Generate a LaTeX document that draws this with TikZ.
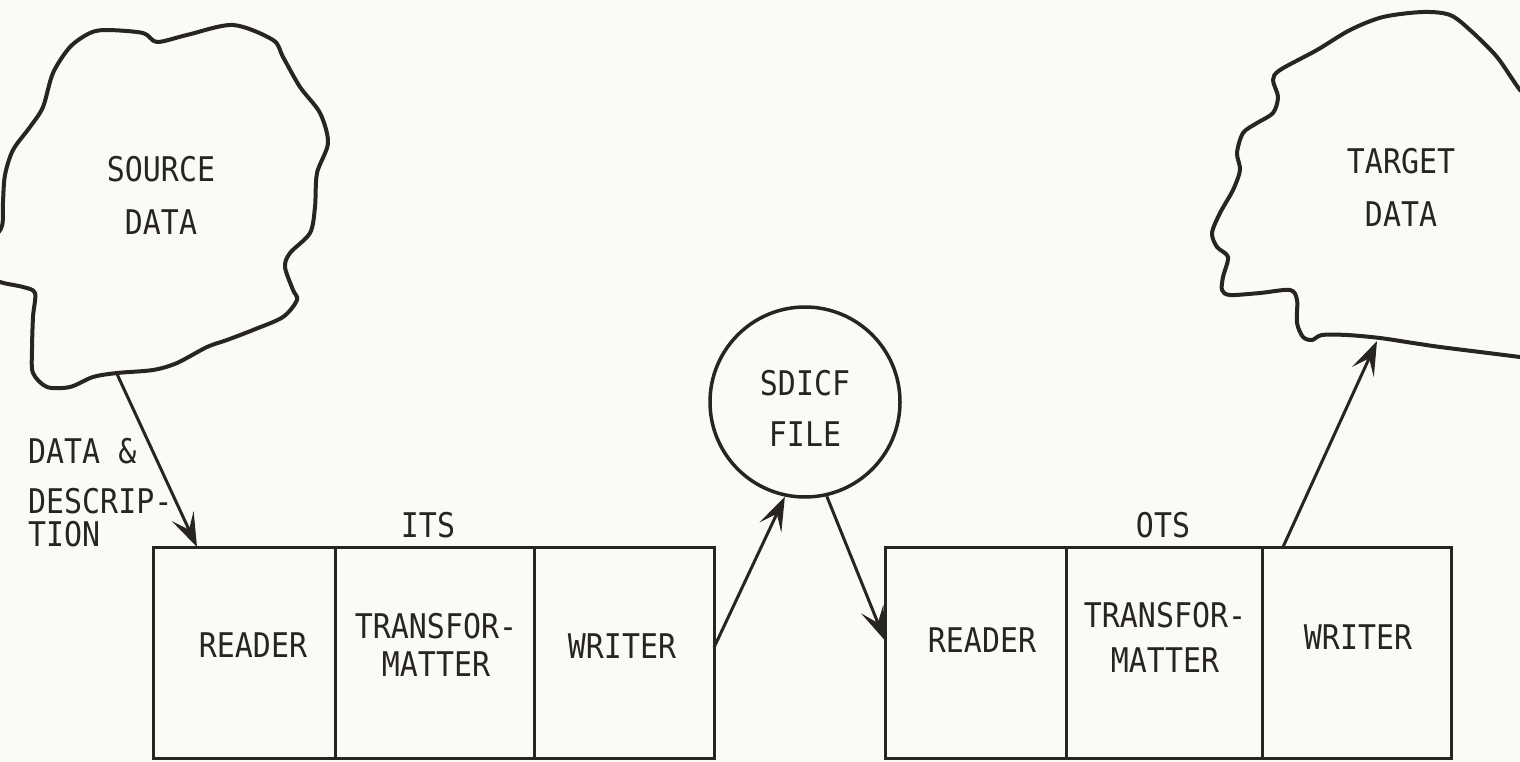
\documentclass[tikz,border=0pt]{standalone}
\usepackage{fontspec}
\newfontfamily\plotfont[FakeStretch=0.88]{DejaVu Sans Mono}
\usetikzlibrary{arrows.meta}
\definecolor{ink}{RGB}{40,36,36}
\definecolor{paper}{RGB}{251,251,246}
\tikzset{
  cell/.style={draw=ink, line width=3pt, rectangle, inner sep=0pt, outer sep=0pt,
               minimum height=211pt, anchor=north west},
  lbl/.style={text=ink, font=\plotfont\fontsize{34}{53}\selectfont, inner sep=0pt, align=center},
  flow/.style={draw=ink, line width=3pt, -{Stealth[length=34pt,width=24pt,inset=15pt]}},
  cloudline/.style={draw=ink, line width=4pt, line join=round},
  filecircle/.style={draw=ink, line width=3.5pt, circle, minimum size=190pt, inner sep=0pt}
}
\begin{document}
\begin{tikzpicture}[x=1pt,y=-1pt]
\fill[paper] (0,0) rectangle (1520,762);
\useasboundingbox (0,0) rectangle (1520,762);
\begin{scope}
\clip (0,0) rectangle (1520,762);
% source cloud
\draw[cloudline] plot[smooth cycle, tension=0.5] coordinates {
 (107,30) (143,33) (157,42) (187,35) (233,25) (273,40) (283,57) (300,87)
 (320,113) (328,143) (317,173) (315,207) (310,233) (290,253) (285,267)
 (293,290) (297,300) (283,317) (253,330) (227,340) (207,347) (177,363)
 (153,370) (117,373) (93,377) (70,387) (47,387) (33,373) (32,350) (33,317)
 (35,293) (23,287) (0,282) (-30,270) (-30,245) (-8,238) (2,226) (3,202)
 (5,175) (13,150) (30,127) (43,107) (53,73) (70,47) (90,33)};
% target cloud
\draw[cloudline] plot[smooth cycle, tension=0.5] coordinates {
 (1540,110) (1520,90) (1497,57) (1470,30) (1450,15) (1423,12) (1383,17)
 (1350,30) (1317,50) (1280,70) (1273,80) (1278,97) (1273,113) (1257,123)
 (1243,133) (1237,153) (1240,170) (1233,190) (1220,213) (1212,233)
 (1217,247) (1228,257) (1223,277) (1222,290) (1230,295) (1260,293)
 (1290,290) (1297,300) (1297,323) (1303,337) (1312,340) (1322,335)
 (1347,335) (1380,338) (1413,343) (1440,347) (1480,352) (1520,357)
 (1545,360) (1565,250)};
\end{scope}
\coordinate (srcout) at (117,374);
\coordinate (tgtin) at (1377,341);

\node[lbl] (srctext) at (161,195.5) {SOURCE\\DATA};
\node[lbl] (tgttext) at (1401,187) {TARGET\\DATA};

% SDICF file
\node[filecircle] (file) at (805,402) {};
\node[lbl, font=\plotfont\fontsize{34}{51}\selectfont] (filetext) at (805,408.5) {SDICF\\FILE};

% ITS
\node[cell, minimum width=182pt] (itsr) at (153,547) {};
\node[cell, minimum width=199pt] (itst) at (335,547) {};
\node[cell, minimum width=180pt] (itsw) at (534,547) {};
\node[lbl] (itslabel) at (428,525) {ITS};
\node[lbl] (itsrt) at (253,645) {READER};
\node[lbl, font=\plotfont\fontsize{34}{38}\selectfont] (itstt) at (436,645) {TRANSFOR-\\MATTER};
\node[lbl] (itswt) at (622,646) {WRITER};

% OTS
\node[cell, minimum width=181pt] (otsr) at (885,547) {};
\node[cell, minimum width=196pt] (otst) at (1066,547) {};
\node[cell, minimum width=189pt] (otsw) at (1262,547) {};
\node[lbl] (otslabel) at (1163,525) {OTS};
\node[lbl] (otsrt) at (982,640) {READER};
\node[lbl, font=\plotfont\fontsize{34}{45}\selectfont] (otstt) at (1165,637) {TRANSFOR-\\MATTER};
\node[lbl] (otswt) at (1358,637) {WRITER};

% data & description label
\node[lbl, anchor=west] (dd1) at (28,451) {DATA \&};
\node[lbl, anchor=west] (dd2) at (28,501) {DESCRIP-};
\node[lbl, anchor=west] (dd3) at (28,534) {TION};

% connectors
\coordinate (in1) at ([xshift=44pt]itsr.north west);
\coordinate (wout) at ([yshift=5pt]itsw.east);
\coordinate (rin) at ([yshift=12pt]otsr.west);
\coordinate (wout2) at ([xshift=21pt]otsw.north west);
\draw[flow] (srcout) -- (in1);
\draw[flow] (wout) -- (file.-102);
\draw[flow] (file.-77) -- (rin);
\draw[flow] (wout2) -- (tgtin);
\end{tikzpicture}
\end{document}
